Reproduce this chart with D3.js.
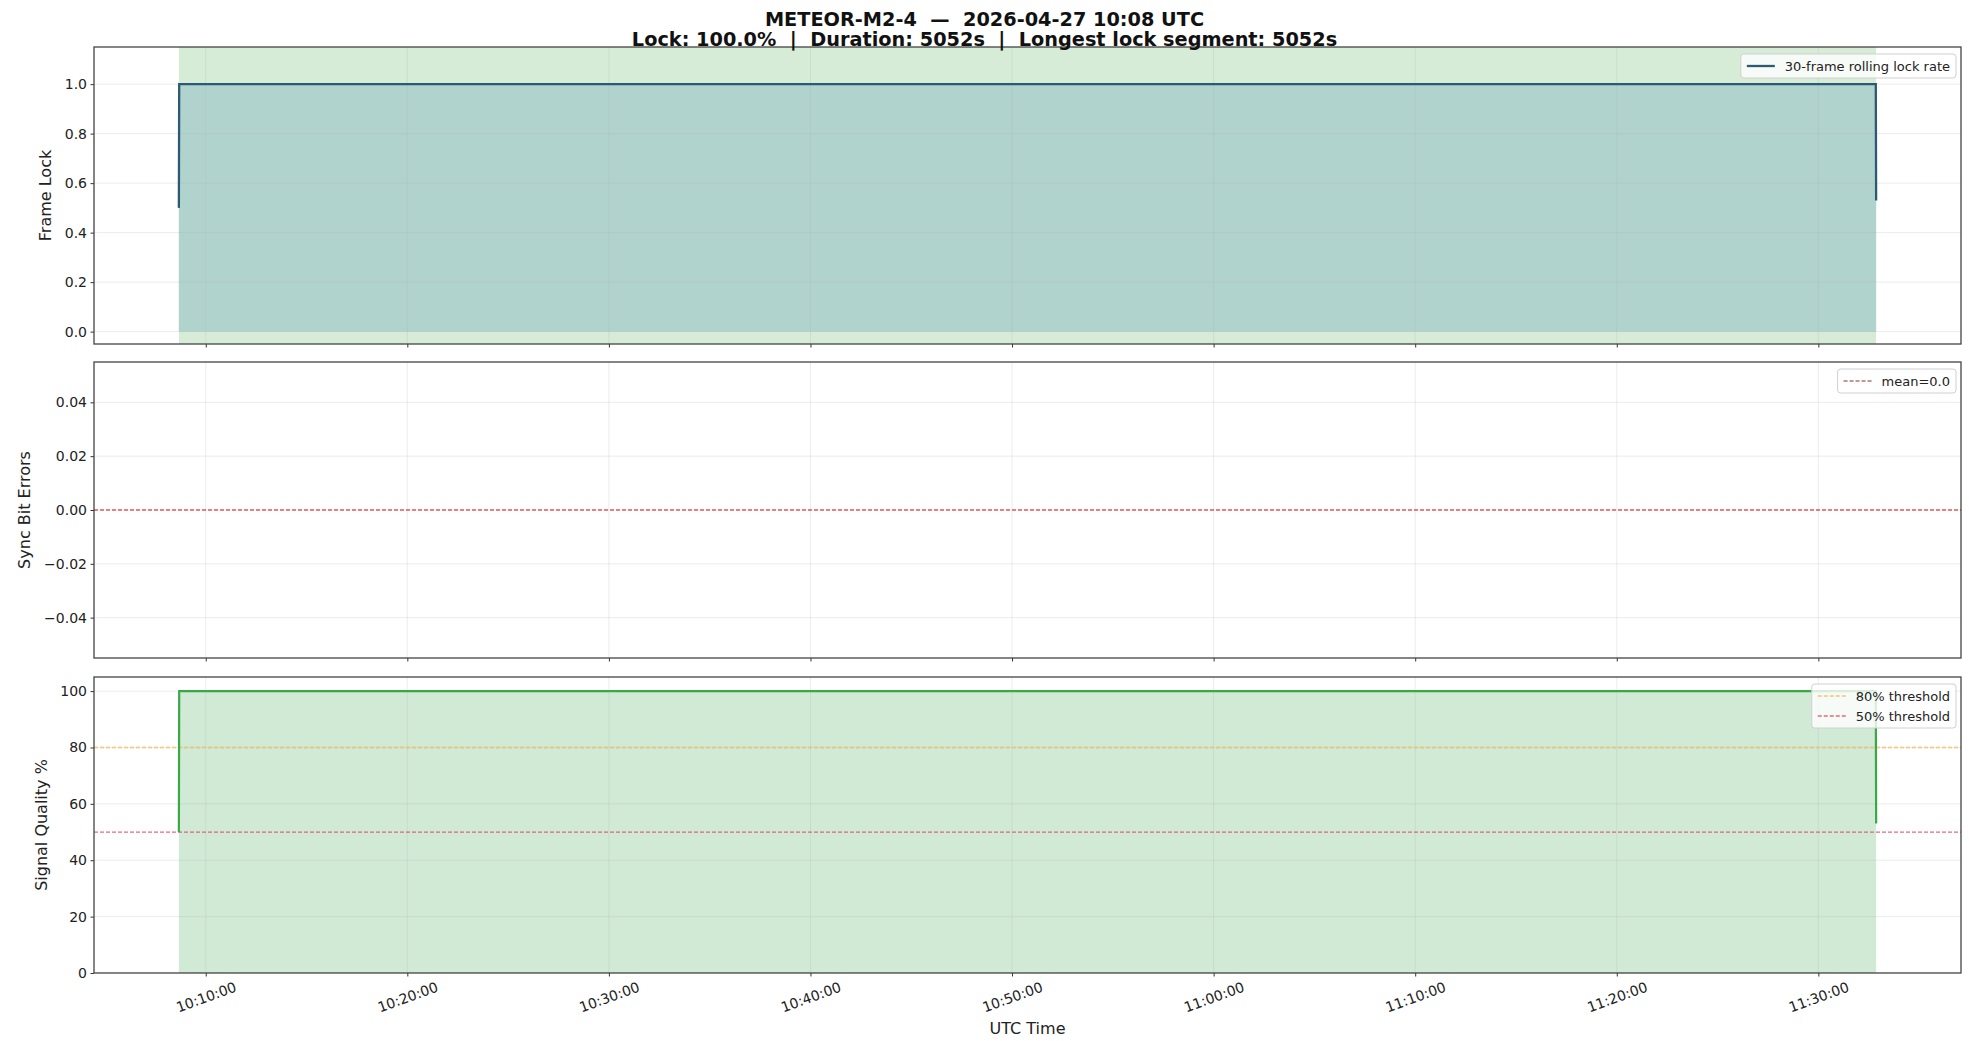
<!DOCTYPE html>
<html>
<head>
<meta charset="utf-8">
<script src="https://cdn.jsdelivr.net/npm/d3@7"></script>
<style>
  html, body { margin: 0; padding: 0; background: #fff; }
  svg { display: block; font-family: "DejaVu Sans", sans-serif; }
  .title { white-space: pre; }
</style>
</head>
<body>
<svg id="chart" width="1969" height="1041"></svg>
<script>
// Pass summary
const satellite = "METEOR-M2-4";
const passStartLabel = "2026-04-27 10:08 UTC";
const lockPercent = 100.0;
const durationSec = 5052;
const longestSegmentSec = 5052;

// Sampled series (UTC timestamps)
const sampleTimes = [
  "2026-04-27T10:08:40Z",
  "2026-04-27T10:08:41Z",
  "2026-04-27T11:32:51Z",
  "2026-04-27T11:32:52Z"
];
const lockRate = [0.50, 1.00, 1.00, 0.53];       // 30-frame rolling lock rate
const syncBitErrors = [0, 0, 0, 0];              // sync bit errors per frame
const signalQuality = [50, 100, 100, 53];        // signal quality %
const thresholds = [80, 50];
const thresholdLabels = ["80% threshold", "50% threshold"];

// Axis ticks
const lockTicks = [0.0, 0.2, 0.4, 0.6, 0.8, 1.0];
const syncTicks = [-0.04, -0.02, 0.00, 0.02, 0.04];
const qualityTicks = [0, 20, 40, 60, 80, 100];

const times = sampleTimes.map(s => new Date(s));
const meanSync = d3.mean(syncBitErrors);

const svg = d3.select("#chart");
const W = 1969, H = 1041;
const left = 94, right = 1961;

const t0 = times[0], t1 = times[times.length - 1];
const span = t1 - t0;
const x = d3.scaleUtc()
  .domain([new Date(+t0 - span * 0.05), new Date(+t1 + span * 0.05)])
  .range([left, right]);
const xTicks = x.ticks(d3.utcMinute.every(10));
const fmtTime = d3.utcFormat("%H:%M:%S");

const panels = [
  { top: 47, bottom: 344, domain: [-0.05, 1.15], ticks: lockTicks, fmt: d3.format(".1f"), label: "Frame Lock", labelX: 45 },
  { top: 362, bottom: 658, domain: [-0.055, 0.055], ticks: syncTicks, fmt: d3.format(".2f"), label: "Sync Bit Errors", labelX: 24 },
  { top: 677, bottom: 973, domain: [0, 105], ticks: qualityTicks, fmt: d3.format("d"), label: "Signal Quality %", labelX: 41 }
];
panels.forEach(p => { p.y = d3.scaleLinear().domain(p.domain).range([p.bottom, p.top]); });

const gridColor = "#b0b0b0";
const spineColor = "#444";
const tickColor = "#333";

function clipFor(p, id) {
  svg.append("clipPath").attr("id", id)
    .append("rect").attr("x", left).attr("y", p.top)
    .attr("width", right - left).attr("height", p.bottom - p.top);
  return svg.append("g").attr("clip-path", `url(#${id})`);
}

function drawGrid(g, p) {
  g.selectAll(null).data(xTicks).join("line")
    .attr("x1", d => x(d)).attr("x2", d => x(d))
    .attr("y1", p.top).attr("y2", p.bottom)
    .attr("stroke", gridColor).attr("stroke-opacity", 0.3).attr("stroke-width", 0.8);
  g.selectAll(null).data(p.ticks).join("line")
    .attr("x1", left).attr("x2", right)
    .attr("y1", d => p.y(d)).attr("y2", d => p.y(d))
    .attr("stroke", gridColor).attr("stroke-opacity", 0.3).attr("stroke-width", 0.8);
}

function drawAxes(p, showXLabels) {
  const yAxis = d3.axisLeft(p.y).tickValues(p.ticks).tickFormat(p.fmt).tickSize(3.5).tickPadding(3.5);
  const gy = svg.append("g").attr("transform", `translate(${left},0)`).call(yAxis);
  gy.select(".domain").remove();
  gy.selectAll(".tick line").attr("stroke", tickColor).attr("stroke-width", 1);
  gy.selectAll(".tick text").attr("fill", "#222").style("font-size", "14px").attr("font-family", "DejaVu Sans");

  const xAxis = d3.axisBottom(x).tickValues(xTicks).tickSize(3.5).tickFormat(showXLabels ? fmtTime : () => "");
  const gx = svg.append("g").attr("transform", `translate(0,${p.bottom})`).call(xAxis);
  gx.select(".domain").remove();
  gx.selectAll(".tick line").attr("stroke", tickColor).attr("stroke-width", 1);
  if (showXLabels) {
    gx.selectAll(".tick text")
      .attr("fill", "#222").style("font-size", "14px").attr("font-family", "DejaVu Sans")
      .attr("text-anchor", "middle").attr("dy", null)
      .attr("dominant-baseline", "central")
      .attr("transform", "translate(0,24) rotate(-20)")
      .attr("y", 0);
  }

  svg.append("rect")
    .attr("x", left).attr("y", p.top)
    .attr("width", right - left).attr("height", p.bottom - p.top)
    .attr("fill", "none").attr("stroke", spineColor).attr("stroke-width", 1.3);

  svg.append("text")
    .attr("transform", `translate(${p.labelX},${(p.top + p.bottom) / 2}) rotate(-90)`)
    .attr("text-anchor", "middle").attr("dominant-baseline", "central")
    .style("font-size", "16px").attr("fill", "#222")
    .text(p.label);
}

function legend(p, items) {
  const fs = 13, rowH = 20, pad = 6, handle = 28, gap = 10;
  const g = svg.append("g");
  const box = g.append("rect");
  const texts = items.map(it =>
    g.append("text").attr("dominant-baseline", "central")
      .style("font-size", fs + "px").attr("fill", "#222").text(it.label));
  const tw = d3.max(texts, t => t.node().getComputedTextLength());
  const bw = pad + handle + gap + tw + pad;
  const bx = right - 5 - bw;
  const bh = rowH * items.length + 4;
  box.attr("x", bx).attr("y", p.top + 7).attr("width", bw).attr("height", bh)
    .attr("rx", 3).attr("fill", "#fff").attr("fill-opacity", 0.8)
    .attr("stroke", "#d0d0d0").attr("stroke-width", 1);
  items.forEach((it, i) => {
    const cy = p.top + 7 + 2 + rowH * i + rowH / 2;
    texts[i].attr("x", bx + pad + handle + gap).attr("y", cy);
    g.append("line").attr("x1", bx + pad).attr("x2", bx + pad + handle)
      .attr("y1", cy).attr("y2", cy)
      .attr("stroke", it.color).attr("stroke-width", it.width)
      .attr("stroke-opacity", it.opacity || 1)
      .attr("stroke-dasharray", it.dash || null);
  });
}

// ---- Panel 1: frame lock ----
{
  const p = panels[0];
  const g = clipFor(p, "clip-lock");
  g.append("rect").attr("x", x(t0)).attr("y", p.top)
    .attr("width", x(t1) - x(t0)).attr("height", p.bottom - p.top)
    .attr("fill", "#d7ecd7");
  const area = d3.area().x((d, i) => x(times[i])).y0(p.y(0)).y1(d => p.y(d));
  g.append("path").datum(lockRate).attr("d", area).attr("fill", "#b1d3cd");
  drawGrid(g, p);
  const line = d3.line().x((d, i) => x(times[i])).y(d => p.y(d));
  g.append("path").datum(lockRate).attr("d", line)
    .attr("fill", "none").attr("stroke", "#2b5a72").attr("stroke-width", 2.3);
  drawAxes(p, false);
  legend(p, [{ label: "30-frame rolling lock rate", color: "#2b5a72", width: 2.3 }]);
}

// ---- Panel 2: sync bit errors ----
{
  const p = panels[1];
  const g = clipFor(p, "clip-sync");
  drawGrid(g, p);
  g.append("line").attr("x1", left).attr("x2", right)
    .attr("y1", p.y(meanSync)).attr("y2", p.y(meanSync))
    .attr("stroke", "#d62728").attr("stroke-opacity", 0.75)
    .attr("stroke-width", 1.3).attr("stroke-dasharray", "4,2");
  drawAxes(p, false);
  legend(p, [{ label: `mean=${meanSync.toFixed(1)}`, color: "#8a4a4a", width: 1.3, dash: "4,2", opacity: 0.75 }]);
}

// ---- Panel 3: signal quality ----
{
  const p = panels[2];
  const g = clipFor(p, "clip-qual");
  const area = d3.area().x((d, i) => x(times[i])).y0(p.y(0)).y1(d => p.y(d));
  g.append("path").datum(signalQuality).attr("d", area).attr("fill", "#d0ead6");
  drawGrid(g, p);
  const thrColors = ["#f2b94f", "#e0506a"];
  thresholds.forEach((v, i) => {
    g.append("line").attr("x1", left).attr("x2", right)
      .attr("y1", p.y(v)).attr("y2", p.y(v))
      .attr("stroke", thrColors[i]).attr("stroke-opacity", i === 0 ? 0.6 : 0.85)
      .attr("stroke-width", i === 0 ? 1.8 : 1.3).attr("stroke-dasharray", "4,2");
  });
  const line = d3.line().x((d, i) => x(times[i])).y(d => p.y(d));
  g.append("path").datum(signalQuality).attr("d", line)
    .attr("fill", "none").attr("stroke", "#3aa845").attr("stroke-width", 2.2);
  drawAxes(p, true);
  legend(p, thresholds.map((v, i) => ({ label: thresholdLabels[i], color: thrColors[i], width: i === 0 ? 1.8 : 1.3, dash: "4,2", opacity: i === 0 ? 0.6 : 0.85 })));

  svg.append("text").attr("x", (left + right) / 2).attr("y", 1028)
    .attr("text-anchor", "middle").attr("dominant-baseline", "central")
    .style("font-size", "16px").attr("fill", "#222").text("UTC Time");
}

// ---- Title ----
svg.append("text").attr("class", "title").attr("x", W / 2).attr("y", 19)
  .attr("text-anchor", "middle").attr("dominant-baseline", "central")
  .style("font-size", "19.3px").style("font-weight", "bold").attr("fill", "#111")
  .text(`${satellite}  \u2014  ${passStartLabel}`);
svg.append("text").attr("class", "title").attr("x", W / 2).attr("y", 39)
  .attr("text-anchor", "middle").attr("dominant-baseline", "central")
  .style("font-size", "19.3px").style("font-weight", "bold").attr("fill", "#111")
  .text(`Lock: ${lockPercent.toFixed(1)}%  |  Duration: ${durationSec}s  |  Longest lock segment: ${longestSegmentSec}s`);
</script>
</body>
</html>
